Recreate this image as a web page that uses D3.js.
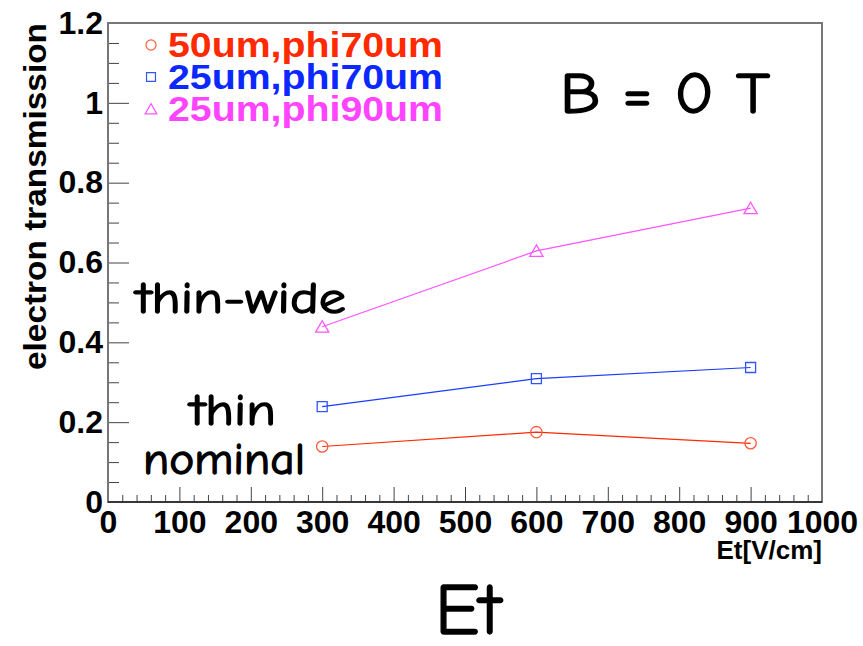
<!DOCTYPE html>
<html>
<head>
<meta charset="utf-8">
<script src="https://cdn.jsdelivr.net/npm/d3@7"></script>
<style>
  html, body { margin: 0; padding: 0; background: #fff; }
  svg { display: block; }
  .tick text { font-family: "Liberation Sans", Arial, sans-serif; font-weight: bold; fill: #000; }
  .hand { font-family: "Comic Sans MS", "Comic Neue", "Noto Sans", sans-serif; fill: #000; stroke: #000; stroke-width: 1.3px; stroke-linejoin: round; }
</style>
</head>
<body>
<svg id="chart" width="863" height="646"></svg>
<script>
// Drift field (V/cm) at which each mesh was measured
const fields = [300, 600, 900];
// Electron transmission per mesh geometry
const trans50phi70 = [0.139, 0.175, 0.147];
const trans25phi70 = [0.239, 0.309, 0.337];
const trans25phi90 = [0.439, 0.629, 0.736];

const seriesNames = ["50um,phi70um", "25um,phi70um", "25um,phi90um"];
const xMajorTicks = [0, 100, 200, 300, 400, 500, 600, 700, 800, 900, 1000];
const yMajorTicks = [0, 0.2, 0.4, 0.6, 0.8, 1, 1.2];

const series = [
  { name: seriesNames[0], values: trans50phi70, marker: "circle",   line: "#ff2a00", mark: "#ff5a3c", text: "#ff2a00" },
  { name: seriesNames[1], values: trans25phi70, marker: "square",   line: "#1a3cff", mark: "#3355ff", text: "#0a28ff" },
  { name: seriesNames[2], values: trans25phi90, marker: "triangle", line: "#ff55ff", mark: "#ff55ff", text: "#ff44ff" }
];

const svg = d3.select("#chart");
const frame = { left: 108, top: 23, right: 822, bottom: 502 };

const x = d3.scaleLinear().domain([0, 1000]).range([frame.left, frame.right]);
const y = d3.scaleLinear().domain([0, 1.2]).range([frame.bottom, frame.top]);

// minor ticks
const xMinor = d3.range(0, 1000.001, 20).filter(v => v % 100 !== 0);
const yMinor = d3.range(0, 1.2001, 0.05).map(v => +v.toFixed(2)).filter(v => Math.abs(v * 5 - Math.round(v * 5)) > 1e-6);

const g = svg.append("g");

g.append("g")
  .attr("transform", `translate(0,${frame.bottom})`)
  .call(d3.axisBottom(x).tickValues(xMinor).tickSize(-7).tickSizeOuter(0).tickFormat(""))
  .call(a => a.select(".domain").remove())
  .call(a => a.selectAll("line").attr("stroke", "#444"));

g.append("g")
  .attr("transform", `translate(${frame.left},0)`)
  .call(d3.axisLeft(y).tickValues(yMinor).tickSize(-11).tickSizeOuter(0).tickFormat(""))
  .call(a => a.select(".domain").remove())
  .call(a => a.selectAll("line").attr("stroke", "#444"));

// major ticks with labels
g.append("g")
  .attr("transform", `translate(0,${frame.bottom})`)
  .call(d3.axisBottom(x).tickValues(xMajorTicks).tickSize(-15).tickSizeOuter(0).tickPadding(8).tickFormat(d3.format("d")))
  .call(a => a.select(".domain").remove())
  .call(a => a.selectAll("line").attr("stroke", "#444"))
  .call(a => a.selectAll("text").style("font-size", "32px"));

g.append("g")
  .attr("transform", `translate(${frame.left},0)`)
  .call(d3.axisLeft(y).tickValues(yMajorTicks).tickSize(-21).tickSizeOuter(0).tickPadding(5).tickFormat(d3.format("~g")))
  .call(a => a.select(".domain").remove())
  .call(a => a.selectAll("line").attr("stroke", "#444"))
  .call(a => a.selectAll("text").style("font-size", "32px"));

// plot frame
svg.append("rect")
  .attr("x", frame.left).attr("y", frame.top)
  .attr("width", frame.right - frame.left).attr("height", frame.bottom - frame.top)
  .attr("fill", "none").attr("stroke", "#777").attr("stroke-width", 2);
svg.append("line")
  .attr("x1", frame.left).attr("x2", frame.right)
  .attr("y1", frame.bottom).attr("y2", frame.bottom)
  .attr("stroke", "#222").attr("stroke-width", 1.6);

// axis titles
svg.append("text")
  .attr("x", frame.right).attr("y", 559)
  .attr("text-anchor", "end")
  .style("font-family", "Liberation Sans, Arial, sans-serif")
  .style("font-weight", "bold").style("font-size", "26px")
  .text("Et[V/cm]");

svg.append("text")
  .attr("transform", `translate(46,${frame.top}) rotate(-90)`)
  .attr("text-anchor", "end")
  .attr("textLength", 347).attr("lengthAdjust", "spacingAndGlyphs")
  .style("font-family", "Liberation Sans, Arial, sans-serif")
  .style("font-weight", "bold").style("font-size", "32px")
  .text("electron transmission");

// markers
const markerPath = (type, size) => {
  if (type === "circle") return d3.symbol(d3.symbolCircle, size)();
  if (type === "square") return d3.symbol(d3.symbolSquare, size)();
  const s = Math.sqrt(size) * 1.2;
  return `M0,${-s * 0.5}L${s * 0.55},${s * 0.45}L${-s * 0.55},${s * 0.45}Z`;
};

const line = d3.line().x((d, i) => x(fields[i])).y(d => y(d));

series.forEach(s => {
  svg.append("path")
    .datum(s.values)
    .attr("d", line)
    .attr("fill", "none")
    .attr("stroke", s.line)
    .attr("stroke-width", 1.2);
  svg.selectAll(null)
    .data(s.values)
    .enter().append("path")
    .attr("transform", (d, i) => `translate(${x(fields[i])},${y(d)})`)
    .attr("d", markerPath(s.marker, 100))
    .attr("fill", "none")
    .attr("stroke", s.mark)
    .attr("stroke-width", 1.3);
});

// legend
const legendRows = d3.scaleLinear().domain([0, 2]).range([45, 109]);
series.forEach((s, i) => {
  const cy = legendRows(i);
  svg.append("path")
    .attr("transform", `translate(151,${cy})`)
    .attr("d", markerPath(s.marker, 80))
    .attr("fill", "none").attr("stroke", s.mark).attr("stroke-width", 1.2);
  svg.append("text")
    .attr("x", 168).attr("y", cy + 12)
    .attr("textLength", 275).attr("lengthAdjust", "spacingAndGlyphs")
    .style("font-family", "Liberation Sans, Arial, sans-serif")
    .style("font-weight", "bold").style("font-size", "35px")
    .style("fill", s.text)
    .text(s.name);
});

// annotations
const notes = [
  { text: "B = 0 T",   x: 560, y: 113, size: 58, len: 210 },
  { text: "thin-wide", x: 136, y: 313, size: 44, len: 210 },
  { text: "thin",      x: 190, y: 425, size: 44, len: 86 },
  { text: "nominal",   x: 143, y: 474, size: 44, len: 162 },
  { text: "Et",        x: 435, y: 634, size: 72, len: 66 }
];
svg.selectAll(".hand")
  .data(notes)
  .enter().append("text")
  .attr("class", "hand")
  .attr("x", d => d.x).attr("y", d => d.y)
  .attr("textLength", d => d.len).attr("lengthAdjust", "spacingAndGlyphs")
  .style("font-size", d => d.size + "px")
  .text(d => d.text);
</script>
</body>
</html>
